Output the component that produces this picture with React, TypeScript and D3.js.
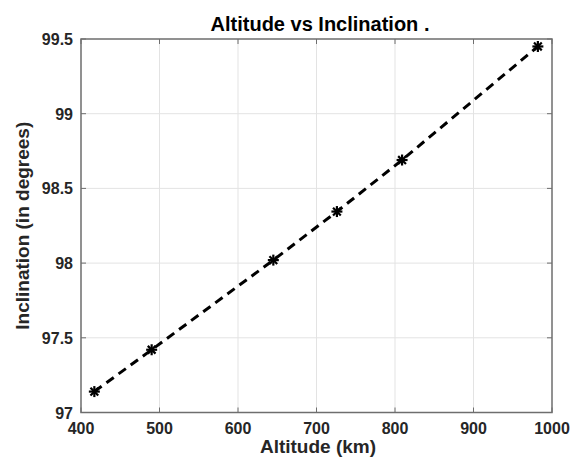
import React, { useEffect, useRef } from 'react';
import * as d3 from 'd3';

const altitude = [417, 490, 645, 726, 809, 982];
const inclination = [97.14, 97.42, 98.02, 98.345, 98.69, 99.45];
const xTicks = [400, 500, 600, 700, 800, 900, 1000];
const yTicks = [97, 97.5, 98, 98.5, 99, 99.5];

const App = () => {
  const ref = useRef<SVGSVGElement>(null);

  useEffect(() => {
    const svg = d3.select(ref.current);
    svg.selectAll('*').remove();

    const left = 81, right = 552, top = 39, bottom = 412.5;
    const font = 'Arial, "Liberation Sans", sans-serif';

    const x = d3.scaleLinear().domain([400, 1000]).range([left, right]);
    const y = d3.scaleLinear().domain([97, 99.5]).range([bottom, top]);

    svg.append('rect').attr('width', 579).attr('height', 457).attr('fill', '#fff');

    // grid
    svg.append('g').selectAll('line').data(xTicks.slice(1, -1)).enter().append('line')
      .attr('x1', d => x(d)).attr('x2', d => x(d)).attr('y1', top).attr('y2', bottom)
      .attr('stroke', '#e3e3e3').attr('stroke-width', 1);
    svg.append('g').selectAll('line').data(yTicks.slice(1, -1)).enter().append('line')
      .attr('x1', left).attr('x2', right).attr('y1', d => y(d)).attr('y2', d => y(d))
      .attr('stroke', '#e3e3e3').attr('stroke-width', 1);

    // inward ticks, all sides
    const tk = 5;
    const ticks = svg.append('g').attr('stroke', '#6e6e6e').attr('stroke-width', 1);
    xTicks.forEach(t => {
      ticks.append('line').attr('x1', x(t)).attr('x2', x(t)).attr('y1', bottom).attr('y2', bottom - tk);
      ticks.append('line').attr('x1', x(t)).attr('x2', x(t)).attr('y1', top).attr('y2', top + tk);
    });
    yTicks.forEach(t => {
      ticks.append('line').attr('x1', left).attr('x2', left + tk).attr('y1', y(t)).attr('y2', y(t));
      ticks.append('line').attr('x1', right).attr('x2', right - tk).attr('y1', y(t)).attr('y2', y(t));
    });

    // box
    svg.append('rect').attr('x', left).attr('y', top)
      .attr('width', right - left).attr('height', bottom - top)
      .attr('fill', 'none').attr('stroke', '#6e6e6e').attr('stroke-width', 1.5);

    // tick labels
    svg.append('g').selectAll('text').data(xTicks).enter().append('text')
      .attr('x', d => x(d)).attr('y', 434)
      .attr('text-anchor', 'middle')
      .style('font', `bold 16px ${font}`).attr('fill', '#262626')
      .text(d => d);
    svg.append('g').selectAll('text').data(yTicks).enter().append('text')
      .attr('x', 73).attr('y', d => y(d) + 6)
      .attr('text-anchor', 'end')
      .style('font', `bold 16px ${font}`).attr('fill', '#262626')
      .text(d => d);

    // data line
    const line = d3.line<number>().x((d, i) => x(altitude[i])).y(d => y(d));
    svg.append('path').datum(inclination)
      .attr('d', line).attr('fill', 'none')
      .attr('stroke', '#000').attr('stroke-width', 3)
      .attr('stroke-dasharray', '9,6');

    // asterisk markers
    const r = 5.5;
    const marks = svg.append('g').attr('stroke', '#000').attr('stroke-width', 2.2);
    inclination.forEach((v, i) => {
      const cx = x(altitude[i]), cy = y(v);
      [0, 45, 90, 135].forEach(a => {
        const rad = (a * Math.PI) / 180;
        marks.append('line')
          .attr('x1', cx - r * Math.cos(rad)).attr('y1', cy - r * Math.sin(rad))
          .attr('x2', cx + r * Math.cos(rad)).attr('y2', cy + r * Math.sin(rad));
      });
    });

    // titles
    svg.append('text').attr('x', 320).attr('y', 31)
      .attr('text-anchor', 'middle')
      .style('font', `bold 20px ${font}`).attr('fill', '#000')
      .text('Altitude vs Inclination .');
    svg.append('text').attr('x', 318).attr('y', 453)
      .attr('text-anchor', 'middle')
      .style('font', `bold 19px ${font}`).attr('fill', '#262626')
      .text('Altitude (km)');
    svg.append('text')
      .attr('transform', `translate(29,${(top + bottom) / 2}) rotate(-90)`)
      .attr('text-anchor', 'middle')
      .style('font', `bold 19px ${font}`).attr('fill', '#262626')
      .text('Inclination (in degrees)');
  }, []);

  return <svg ref={ref} width={579} height={457} style={{ display: 'block', position: 'absolute', left: 0, top: 0 }} />;
};

export default App;
